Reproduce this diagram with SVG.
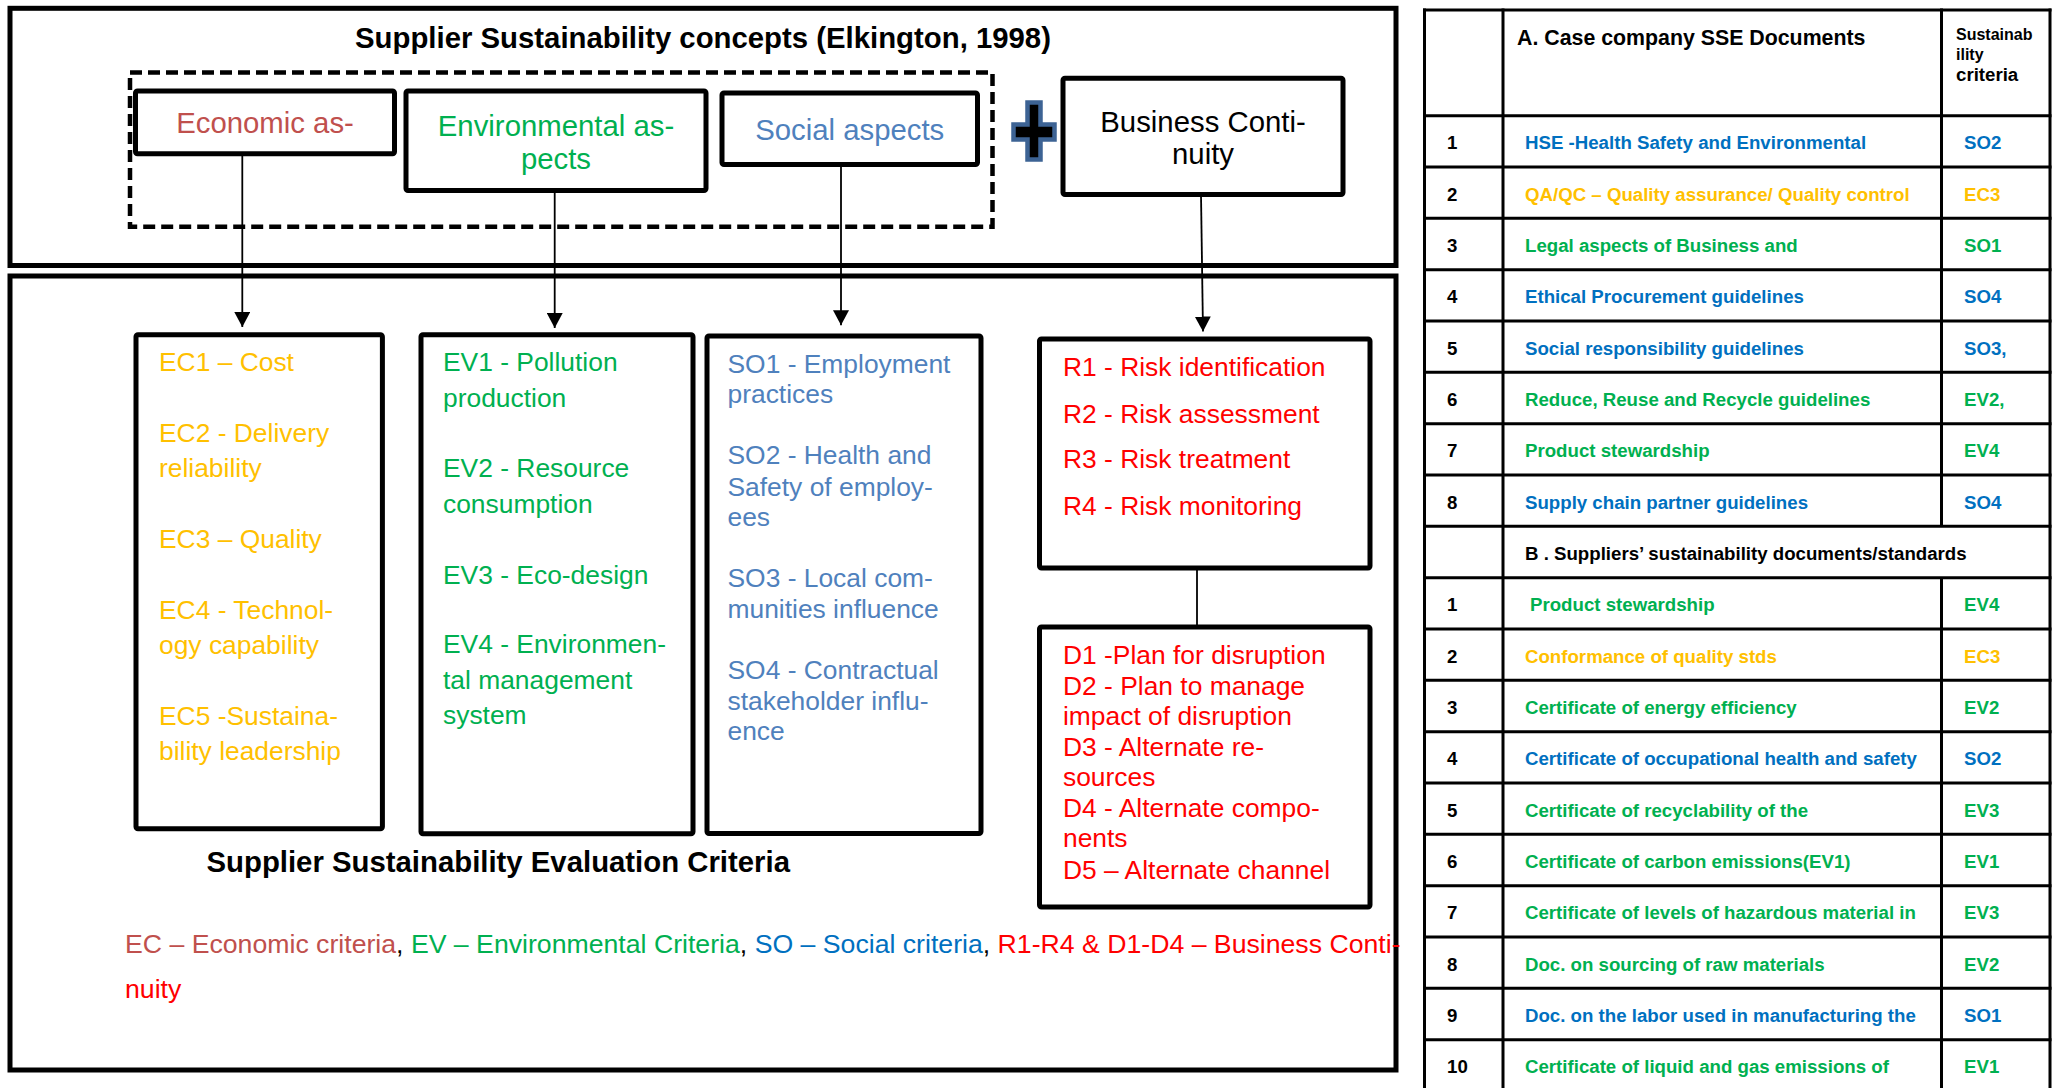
<svg xmlns="http://www.w3.org/2000/svg" width="2053" height="1088" viewBox="0 0 2053 1088">
  <defs>
    <marker id="arrow" viewBox="0 0 15 16" refX="15" refY="8" markerWidth="15" markerHeight="16" markerUnits="userSpaceOnUse" orient="auto">
      <path d="M0,0 L15,8 L0,16 z" fill="#000"/>
    </marker>
  </defs>
  <style>
    text { font-family: "Liberation Sans", Arial, sans-serif; }
    .frame { fill: none; stroke: #000; stroke-width: 5; }
    .box { fill: #fff; stroke: #000; stroke-width: 5; }
    .dash { fill: none; stroke: #000; stroke-width: 4.5; stroke-dasharray: 12 6; }
    .head { font-size: 29.33px; font-weight: bold; fill: #000; }
    .lbl { font-size: 29.33px; text-anchor: middle; }
    .crit { font-size: 26.4px; }
    .legend { font-size: 26.67px; }
    .econ { fill: #C0504D; }
    .ec { fill: #FFC000; }
    .ev { fill: #00B050; }
    .so { fill: #4F81BD; }
    .sob { fill: #0070C0; }
    .red { fill: #FF0000; }
    .blk { fill: #000; }
    .conn line { stroke: #000; stroke-width: 1.8; }
    .grid line { stroke: #000; stroke-width: 3; }
    .td { font-size: 18.67px; font-weight: bold; }
    .th { font-size: 21.33px; font-weight: bold; }
  </style>

  <rect x="0" y="0" width="2053" height="1088" fill="#fff"/>

  <!-- upper panel: concepts -->
  <g id="concepts-panel">
    <rect class="frame" x="10" y="8.3" width="1386" height="257.2"/>
    <text class="head" x="703" y="48.3" text-anchor="middle">Supplier Sustainability concepts (Elkington, 1998)</text>
    <rect class="dash" x="130" y="72.5" width="862.5" height="154.2"/>
  </g>

  <g id="economic-aspects">
    <rect class="box" x="135.5" y="91" width="259" height="62.7" rx="2"/>
    <text class="lbl econ" x="265" y="133">Economic as-</text>
  </g>

  <g id="environmental-aspects">
    <rect class="box" x="406" y="91" width="300" height="99.5" rx="2"/>
    <text class="lbl ev" x="556" y="136">Environmental as-</text>
    <text class="lbl ev" x="556" y="168.5">pects</text>
  </g>

  <g id="social-aspects">
    <rect class="box" x="722" y="93" width="255.5" height="71.5" rx="2"/>
    <text class="lbl so" x="849.7" y="140">Social aspects</text>
  </g>

  <g id="plus-sign">
    <path d="M1027.5,102.5 H1040.5 V124.5 H1054.5 V139.5 H1040.5 V159.5 H1027.5 V139.5 H1013.5 V124.5 H1027.5 Z" fill="#000" stroke="#3D6394" stroke-width="4.5"/>
  </g>

  <g id="business-continuity">
    <rect class="box" x="1063" y="78.3" width="280" height="116.2" rx="2"/>
    <text class="lbl blk" x="1203" y="131.5">Business Conti-</text>
    <text class="lbl blk" x="1203" y="164">nuity</text>
  </g>

  <!-- lower panel: evaluation criteria -->
  <g id="criteria-panel">
    <rect class="frame" x="10" y="276" width="1386" height="794"/>
    <text class="head" x="206.5" y="871.7">Supplier Sustainability Evaluation Criteria</text>
  </g>

  <g id="economic-criteria">
    <rect class="box" x="136" y="334.8" width="246.4" height="494" rx="2"/>
    <text class="crit ec">
      <tspan x="159" y="371">EC1 – Cost</tspan>
      <tspan x="159" y="442.3">EC2 - Delivery</tspan>
      <tspan x="159" y="476.7">reliability</tspan>
      <tspan x="159" y="548.3">EC3 – Quality</tspan>
      <tspan x="159" y="619">EC4 - Technol-</tspan>
      <tspan x="159" y="654">ogy capability</tspan>
      <tspan x="159" y="724.5">EC5 -Sustaina-</tspan>
      <tspan x="159" y="759.5">bility leadership</tspan>
    </text>
  </g>

  <g id="environmental-criteria">
    <rect class="box" x="421" y="334.8" width="272" height="499" rx="2"/>
    <text class="crit ev">
      <tspan x="443" y="371">EV1 - Pollution</tspan>
      <tspan x="443" y="407">production</tspan>
      <tspan x="443" y="477">EV2 - Resource</tspan>
      <tspan x="443" y="513">consumption</tspan>
      <tspan x="443" y="584">EV3 - Eco-design</tspan>
      <tspan x="443" y="653">EV4 - Environmen-</tspan>
      <tspan x="443" y="689">tal management</tspan>
      <tspan x="443" y="724">system</tspan>
    </text>
  </g>

  <g id="social-criteria">
    <rect class="box" x="707" y="336" width="274" height="497.5" rx="2"/>
    <text class="crit so">
      <tspan x="727.5" y="372.5">SO1 - Employment</tspan>
      <tspan x="727.5" y="403">practices</tspan>
      <tspan x="727.5" y="464">SO2 - Health and</tspan>
      <tspan x="727.5" y="495.5">Safety of employ-</tspan>
      <tspan x="727.5" y="526">ees</tspan>
      <tspan x="727.5" y="587">SO3 - Local com-</tspan>
      <tspan x="727.5" y="618">munities influence</tspan>
      <tspan x="727.5" y="679">SO4 - Contractual</tspan>
      <tspan x="727.5" y="710">stakeholder influ-</tspan>
      <tspan x="727.5" y="740">ence</tspan>
    </text>
  </g>

  <g id="risk-criteria">
    <rect class="box" x="1039.5" y="339" width="330.5" height="229" rx="2"/>
    <text class="crit red">
      <tspan x="1063" y="376">R1 - Risk identification</tspan>
      <tspan x="1063" y="422.7">R2 - Risk assessment</tspan>
      <tspan x="1063" y="468.3">R3 - Risk treatment</tspan>
      <tspan x="1063" y="515">R4 - Risk monitoring</tspan>
    </text>
  </g>

  <g id="disruption-criteria">
    <rect class="box" x="1039.5" y="627" width="330.5" height="280" rx="2"/>
    <text class="crit red">
      <tspan x="1063" y="664">D1 -Plan for disruption</tspan>
      <tspan x="1063" y="694.5">D2 - Plan to manage</tspan>
      <tspan x="1063" y="725">impact of disruption</tspan>
      <tspan x="1063" y="756">D3 - Alternate re-</tspan>
      <tspan x="1063" y="786">sources</tspan>
      <tspan x="1063" y="816.5">D4 - Alternate compo-</tspan>
      <tspan x="1063" y="847">nents</tspan>
      <tspan x="1063" y="878.5">D5 – Alternate channel</tspan>
    </text>
  </g>

  <g id="legend">
    <text class="legend" x="125" y="953"><tspan class="econ">EC – Economic criteria</tspan><tspan class="blk">, </tspan><tspan class="ev">EV – Environmental Criteria</tspan><tspan class="blk">, </tspan><tspan class="sob">SO – Social criteria</tspan><tspan class="blk">, </tspan><tspan class="red">R1-R4 &amp; D1-D4 – Business Conti-</tspan></text>
    <text class="legend red" x="125" y="998">nuity</text>
  </g>

  <!-- connectors -->
  <g id="connectors" class="conn">
    <line x1="242.3" y1="154" x2="242.3" y2="327" marker-end="url(#arrow)"/>
    <line x1="554.7" y1="191" x2="554.7" y2="328" marker-end="url(#arrow)"/>
    <line x1="841" y1="165" x2="841" y2="325.2" marker-end="url(#arrow)"/>
    <line x1="1201" y1="194.5" x2="1203" y2="331.5" marker-end="url(#arrow)"/>
    <line x1="1197" y1="568" x2="1197" y2="627"/>
  </g>

  <!-- document table -->
  <g id="document-table">
    <g class="grid">
      <line x1="1424.5" y1="8.5" x2="1424.5" y2="1090"/>
      <line x1="1503" y1="8.5" x2="1503" y2="1090"/>
      <line x1="1941.5" y1="8.5" x2="1941.5" y2="526.34"/>
      <line x1="1941.5" y1="577.67" x2="1941.5" y2="1090"/>
      <line x1="2050" y1="8.5" x2="2050" y2="1090"/>
      <line x1="1423" y1="10" x2="2051.5" y2="10"/>
      <line x1="1423" y1="115.7" x2="2051.5" y2="115.7"/>
      <line x1="1423" y1="167.03" x2="2051.5" y2="167.03"/>
      <line x1="1423" y1="218.36" x2="2051.5" y2="218.36"/>
      <line x1="1423" y1="269.69" x2="2051.5" y2="269.69"/>
      <line x1="1423" y1="321.02" x2="2051.5" y2="321.02"/>
      <line x1="1423" y1="372.35" x2="2051.5" y2="372.35"/>
      <line x1="1423" y1="423.68" x2="2051.5" y2="423.68"/>
      <line x1="1423" y1="475.01" x2="2051.5" y2="475.01"/>
      <line x1="1423" y1="526.34" x2="2051.5" y2="526.34"/>
      <line x1="1423" y1="577.67" x2="2051.5" y2="577.67"/>
      <line x1="1423" y1="629" x2="2051.5" y2="629"/>
      <line x1="1423" y1="680.33" x2="2051.5" y2="680.33"/>
      <line x1="1423" y1="731.66" x2="2051.5" y2="731.66"/>
      <line x1="1423" y1="782.99" x2="2051.5" y2="782.99"/>
      <line x1="1423" y1="834.32" x2="2051.5" y2="834.32"/>
      <line x1="1423" y1="885.65" x2="2051.5" y2="885.65"/>
      <line x1="1423" y1="936.98" x2="2051.5" y2="936.98"/>
      <line x1="1423" y1="988.31" x2="2051.5" y2="988.31"/>
      <line x1="1423" y1="1039.64" x2="2051.5" y2="1039.64"/>
    </g>

    <text class="th" x="1517" y="45">A. Case company SSE Documents</text>
    <text font-weight="bold" fill="#000">
      <tspan x="1956" y="40" font-size="16px">Sustainab</tspan>
      <tspan x="1956" y="60" font-size="16px">ility</tspan>
      <tspan x="1956" y="81" font-size="18.67px">criteria</tspan>
    </text>

    <g class="td">
      <text class="blk" x="1447" y="149.2">1</text>
      <text class="sob" x="1525" y="149.2">HSE -Health Safety and Environmental</text>
      <text class="sob" x="1964" y="149.2">SO2</text>

      <text class="blk" x="1447" y="200.5">2</text>
      <text class="ec" x="1525" y="200.5">QA/QC – Quality assurance/ Quality control</text>
      <text class="ec" x="1964" y="200.5">EC3</text>

      <text class="blk" x="1447" y="251.9">3</text>
      <text class="ev" x="1525" y="251.9">Legal aspects of Business and</text>
      <text class="ev" x="1964" y="251.9">SO1</text>

      <text class="blk" x="1447" y="303.2">4</text>
      <text class="sob" x="1525" y="303.2">Ethical Procurement guidelines</text>
      <text class="sob" x="1964" y="303.2">SO4</text>

      <text class="blk" x="1447" y="354.5">5</text>
      <text class="sob" x="1525" y="354.5">Social responsibility guidelines</text>
      <text class="sob" x="1964" y="354.5">SO3,</text>

      <text class="blk" x="1447" y="405.9">6</text>
      <text class="ev" x="1525" y="405.9">Reduce, Reuse and Recycle guidelines</text>
      <text class="ev" x="1964" y="405.9">EV2,</text>

      <text class="blk" x="1447" y="457.2">7</text>
      <text class="ev" x="1525" y="457.2">Product stewardship</text>
      <text class="ev" x="1964" y="457.2">EV4</text>

      <text class="blk" x="1447" y="508.5">8</text>
      <text class="sob" x="1525" y="508.5">Supply chain partner guidelines</text>
      <text class="sob" x="1964" y="508.5">SO4</text>

      <text class="blk" x="1525" y="559.8">B . Suppliers’ sustainability documents/standards</text>

      <text class="blk" x="1447" y="611.2">1</text>
      <text class="ev" x="1530" y="611.2">Product stewardship</text>
      <text class="ev" x="1964" y="611.2">EV4</text>

      <text class="blk" x="1447" y="662.5">2</text>
      <text class="ec" x="1525" y="662.5">Conformance of quality stds</text>
      <text class="ec" x="1964" y="662.5">EC3</text>

      <text class="blk" x="1447" y="713.8">3</text>
      <text class="ev" x="1525" y="713.8">Certificate of energy efficiency</text>
      <text class="ev" x="1964" y="713.8">EV2</text>

      <text class="blk" x="1447" y="765.2">4</text>
      <text class="sob" x="1525" y="765.2">Certificate of occupational health and safety</text>
      <text class="sob" x="1964" y="765.2">SO2</text>

      <text class="blk" x="1447" y="816.5">5</text>
      <text class="ev" x="1525" y="816.5">Certificate of recyclability of the</text>
      <text class="ev" x="1964" y="816.5">EV3</text>

      <text class="blk" x="1447" y="867.8">6</text>
      <text class="ev" x="1525" y="867.8">Certificate of carbon emissions(EV1)</text>
      <text class="ev" x="1964" y="867.8">EV1</text>

      <text class="blk" x="1447" y="919.2">7</text>
      <text class="ev" x="1525" y="919.2">Certificate of levels of hazardous material in</text>
      <text class="ev" x="1964" y="919.2">EV3</text>

      <text class="blk" x="1447" y="970.5">8</text>
      <text class="ev" x="1525" y="970.5">Doc. on sourcing of raw materials</text>
      <text class="ev" x="1964" y="970.5">EV2</text>

      <text class="blk" x="1447" y="1021.8">9</text>
      <text class="sob" x="1525" y="1021.8">Doc. on the labor used in manufacturing the</text>
      <text class="sob" x="1964" y="1021.8">SO1</text>

      <text class="blk" x="1447" y="1073.1">10</text>
      <text class="ev" x="1525" y="1073.1">Certificate of liquid and gas emissions of</text>
      <text class="ev" x="1964" y="1073.1">EV1</text>
    </g>
  </g>
</svg>
